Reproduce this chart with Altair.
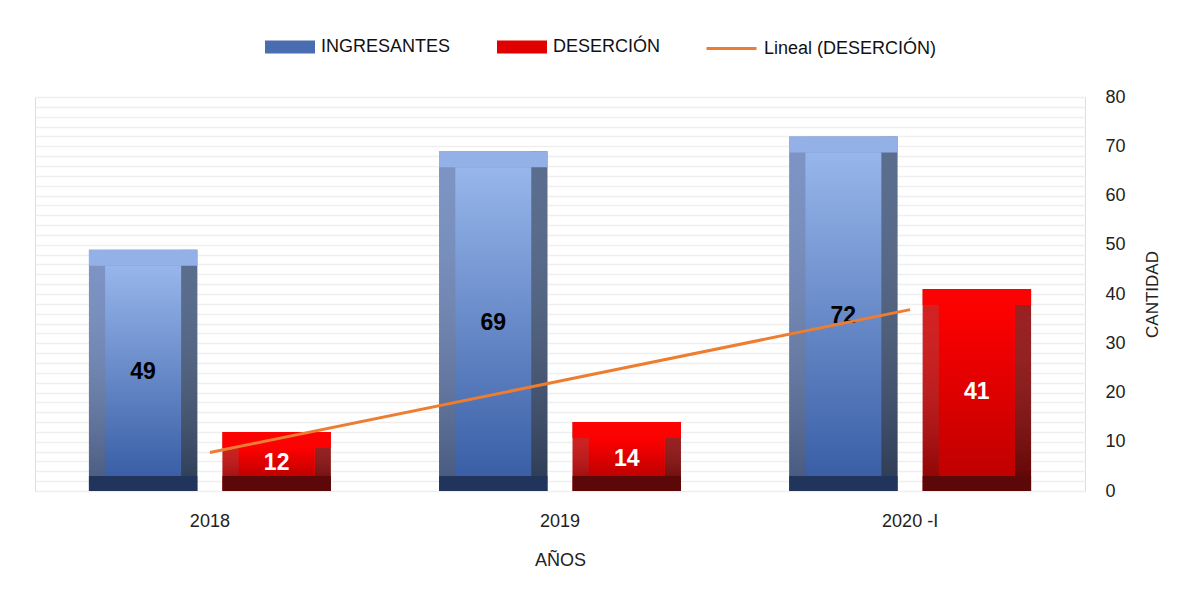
import altair as alt
import pandas as pd

anios = ["2018", "2019", "2020 -I"]
series = ["INGRESANTES", "DESERCIÓN"]
ingresantes = [49, 69, 72]
desercion = [12, 14, 41]
trend_label = "Lineal (DESERCIÓN)"

rows = []
for i, a in enumerate(anios):
    rows.append({"Año": a, "idx": i + 1, "Serie": series[0], "Cantidad": ingresantes[i]})
    rows.append({"Año": a, "idx": i + 1, "Serie": series[1], "Cantidad": desercion[i]})
df = pd.DataFrame(rows)

FONT = "Liberation Sans"

xscale = alt.Scale(domain=anios, paddingInner=0.309, paddingOuter=0.154)
xenc = alt.X("Año:N", sort=anios, scale=xscale,
             axis=alt.Axis(title="AÑOS", labelAngle=0, labelFontSize=18, titleFontSize=18,
                           labelPadding=21, titlePadding=21, ticks=False, domain=False,
                           labelColor="#222", titleColor="#222", titleFontWeight="normal",
                           labelFont=FONT, titleFont=FONT, grid=False))
xoff = alt.XOffset("Serie:N", sort=series,
                   scale=alt.Scale(domain=series, paddingInner=0.188, paddingOuter=0))
yscale = alt.Scale(domain=[0, 80], nice=False)
y_main = alt.Y("Cantidad:Q", scale=yscale, stack=None,
               axis=alt.Axis(orient="right", values=list(range(0, 81, 10)), title="CANTIDAD",
                             labelFontSize=18, titleFontSize=17, labelPadding=20, titlePadding=36,
                             titleAngle=270,
                             ticks=False, domain=False, gridColor="#d9d9d9", gridWidth=1.5,
                             labelColor="#222", titleColor="#222", titleFontWeight="normal",
                             labelFont=FONT, titleFont=FONT, labelAlign="left"))
y_minor = alt.Y("Cantidad:Q", scale=yscale, stack=None,
                axis=alt.Axis(orient="left", values=list(range(0, 81, 2)), labels=False, ticks=False,
                              domain=False, title=None, gridColor="#efefef", gridWidth=1.5))
y_plain = alt.Y("Cantidad:Q", scale=yscale, stack=None, axis=None)

base = alt.Chart(df)


def hgrad(left, mid, right):
    return alt.Gradient(gradient="linear", x1=0, x2=1, y1=0, y2=0, stops=[
        alt.GradientStop(offset=0, color=left), alt.GradientStop(offset=0.15, color=left),
        alt.GradientStop(offset=0.15, color=mid), alt.GradientStop(offset=0.85, color=mid),
        alt.GradientStop(offset=0.85, color=right), alt.GradientStop(offset=1, color=right)])


def vgrad(top, bottom):
    return alt.Gradient(gradient="linear", x1=0, x2=0, y1=0, y2=1, stops=[
        alt.GradientStop(offset=0, color=top), alt.GradientStop(offset=1, color=bottom)])


minor = base.mark_bar(opacity=0).encode(x=xenc, xOffset=xoff, y=y_minor)

main_axis = base.mark_bar(opacity=0).encode(x=xenc, xOffset=xoff, y=y_main)

legend_layer = base.mark_bar(opacity=0).encode(
    x=xenc, xOffset=xoff, y=y_plain,
    fill=alt.Fill("Serie:N", sort=series,
                  scale=alt.Scale(domain=series, range=["#4a6cb0", "#e00000"]),
                  legend=alt.Legend(title=None, orient="none", direction="horizontal",
                                    legendX=230, legendY=-75, symbolOpacity=1,
                                    symbolType="M-1,-0.26H1V0.26H-1Z", symbolSize=2500,
                                    labelFontSize=18, labelFont=FONT, labelColor="#111",
                                    columnPadding=46, labelOffset=6, symbolStrokeWidth=0,
                                    labelLimit=300)),
)

layers = [minor, main_axis, legend_layer]
styles = {
    "INGRESANTES": dict(sides=("#6a85bd", "#5a80c8", "#43597f"), inner=("#97b6eb", "#3a5fa6"),
                        top="#93b1e6", bottom="#20345c"),
    "DESERCIÓN": dict(sides=("#d00000", "#ff0000", "#8e0000"), inner=("#ff0000", "#c00000"),
                      top="#fb0303", bottom="#5c0808"),
}
for s in series:
    st = styles[s]
    b = base.transform_filter(alt.datum.Serie == s)
    outer = b.mark_bar(fill=hgrad(*st["sides"])).encode(
        x=xenc, xOffset=xoff, y=y_plain, y2=alt.datum(0))
    shade = b.mark_bar(fill=vgrad("rgba(255,255,255,0.12)", "rgba(0,0,0,0.35)")).encode(
        x=xenc, xOffset=xoff, y=y_plain, y2=alt.datum(0))
    top = b.mark_bar(fill=st["top"], y2Offset=16).encode(
        x=xenc, xOffset=xoff, y=y_plain, y2=alt.Y2("Cantidad:Q"))
    inner = b.mark_bar(fill=vgrad(*st["inner"]), width=76, yOffset=16, y2Offset=-15).encode(
        x=xenc, xOffset=xoff, y=y_plain, y2=alt.datum(0))
    bottom = b.mark_bar(fill=st["bottom"], yOffset=-15).encode(
        x=xenc, xOffset=xoff, y=alt.datum(0, scale=yscale, axis=None), y2=alt.datum(0))
    layers += [outer, shade, top, inner, bottom]

labels = base.transform_calculate(mid="datum.Cantidad / 2").mark_text(
    fontSize=23, fontWeight="bold", font=FONT, dy=2).encode(
    x=xenc, xOffset=xoff, y=alt.Y("mid:Q", scale=yscale, axis=None),
    text=alt.Text("Cantidad:Q"),
    color=alt.condition(alt.datum.Serie == "INGRESANTES", alt.value("#000000"), alt.value("#ffffff")),
)
layers.append(labels)

# least-squares linear trend of DESERCIÓN, computed by Vega-Lite transforms
trend = (base.transform_filter(alt.datum.Serie == "DESERCIÓN")
         .transform_joinaggregate(mx="mean(idx)", my="mean(Cantidad)")
         .transform_calculate(sxy="(datum.idx - datum.mx) * (datum.Cantidad - datum.my)",
                              sxx="(datum.idx - datum.mx) * (datum.idx - datum.mx)")
         .transform_joinaggregate(Sxy="sum(sxy)", Sxx="sum(sxx)")
         .transform_calculate(fit="datum.my + datum.Sxy / datum.Sxx * (datum.idx - datum.mx)",
                              trend=f"'{trend_label}'")
         .mark_line(strokeWidth=3)
         .encode(
             x=xenc,
             y=alt.Y("fit:Q", scale=yscale, axis=None),
             order="idx:Q",
             stroke=alt.Stroke("trend:N", scale=alt.Scale(domain=[trend_label], range=["#ED7D31"]),
                               legend=alt.Legend(title=None, orient="none", legendX=670, legendY=-75,
                                                 symbolType="M-1,0H1", symbolSize=2500,
                                                 symbolStrokeWidth=3, labelFontSize=18,
                                                 labelFont=FONT, labelColor="#111",
                                                 labelOffset=6, labelLimit=300)),
         ))
layers.append(trend)

chart = alt.layer(*layers).resolve_axis(y="independent").properties(
    width=1050, height=394,
    autosize=alt.AutoSizeParams(type="none"),
    padding={"left": 27, "top": 89, "right": 107, "bottom": 103},
).configure_view(stroke=None).configure(background="white")

chart.save("out.html", embed_options={"renderer": "svg", "actions": False})
